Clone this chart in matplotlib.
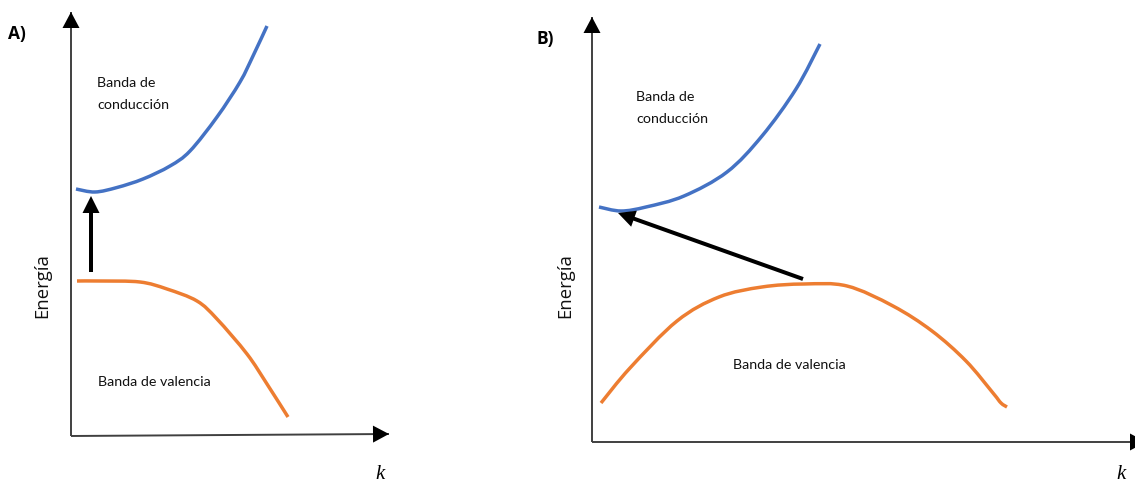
import matplotlib
matplotlib.use("Agg")
import matplotlib.pyplot as plt
from matplotlib.patches import FancyArrow, PathPatch
from matplotlib.path import Path

# Panel A: direct gap (pixel-space coordinates, y grows downward)
a_cond_k = [76, 95, 117, 143, 170, 190, 217, 240, 253, 267]
a_cond_e = [190, 193, 188.5, 180, 167, 152, 118, 83, 57, 27]
a_val_k = [77, 100, 140, 167, 197, 217, 247, 267, 288]
a_val_e = [282, 282, 283, 290, 302, 320, 355, 385, 418]

# Panel B: indirect gap
b_cond_k = [599, 621, 646, 684, 727, 762, 796, 820]
b_cond_e = [208, 212, 208, 197, 173, 137, 90, 45]
b_val_k = [601, 630, 677, 719, 762, 804, 847, 893, 932, 966, 993, 1001, 1007]
b_val_e = [404, 369, 322, 298, 288, 285, 287, 307, 332, 362, 394, 404, 408]

# Electron transitions: (tail k, tail E, tip k, tip E)
a_jump = (91, 273, 91, 197)
b_jump = (803, 280, 618, 214)

BLUE = "#4472C4"
ORANGE = "#ED7D31"
AXIS = "#404040"

fig = plt.figure(figsize=(11.35, 4.85), dpi=100)
ax = fig.add_axes([0, 0, 1, 1])
ax.set_xlim(0, 1135)
ax.set_ylim(485, 0)
ax.axis("off")

TXT = dict(family=["Lato", "DejaVu Sans"], fontsize=10.3, color="#111111")
BIG = dict(family=["Open Sans", "DejaVu Sans"], fontsize=13.3, color="#111111")
TAG = dict(family=["Open Sans", "DejaVu Sans"], fontsize=12.5, fontweight="bold", color="black")
KLAB = dict(family=["Liberation Serif", "DejaVu Serif"], fontsize=15, style="italic", color="black")


def smooth_band(xs, ys, color):
    # Catmull-Rom segments expressed as cubic Bezier path pieces
    pts = list(zip(xs, ys))
    verts = [pts[0]]
    codes = [Path.MOVETO]
    n = len(pts)
    for i in range(n - 1):
        p0 = pts[i - 1] if i > 0 else pts[i]
        p1 = pts[i]
        p2 = pts[i + 1]
        p3 = pts[i + 2] if i + 2 < n else pts[i + 1]
        c1 = (p1[0] + (p2[0] - p0[0]) / 6, p1[1] + (p2[1] - p0[1]) / 6)
        c2 = (p2[0] - (p3[0] - p1[0]) / 6, p2[1] - (p3[1] - p1[1]) / 6)
        verts += [c1, c2, p2]
        codes += [Path.CURVE4] * 3
    ax.add_patch(PathPatch(Path(verts, codes), fill=False, edgecolor=color,
                           lw=2.5, capstyle="butt", joinstyle="round", zorder=3))


def axis_arrow(x0, y0, x1, y1):
    ax.plot([x0, x1], [y0, y1], color=AXIS, lw=1.4, solid_capstyle="butt", zorder=2)
    dx, dy = x1 - x0, y1 - y0
    L = (dx ** 2 + dy ** 2) ** 0.5
    hl = 16
    ux, uy = dx / L, dy / L
    bx, by = x1 - ux * hl, y1 - uy * hl
    ax.add_patch(FancyArrow(bx, by, ux * hl, uy * hl, width=0.1, head_width=17,
                            head_length=hl, length_includes_head=True,
                            color="black", lw=0, zorder=3))


def jump_arrow(t):
    x0, y0, x1, y1 = t
    ax.add_patch(FancyArrow(x0, y0, x1 - x0, y1 - y0, width=4, head_width=17,
                            head_length=17, length_includes_head=True,
                            color="black", lw=0, zorder=4))


# Panel A
axis_arrow(71, 437, 71, 13)
axis_arrow(71, 437, 389, 435)
smooth_band(a_cond_k, a_cond_e, BLUE)
smooth_band(a_val_k, a_val_e, ORANGE)
jump_arrow(a_jump)
ax.text(97, 83, "Banda de", va="center", ha="left", **TXT)
ax.text(97, 105, "conducción", va="center", ha="left", **TXT)
ax.text(98, 382, "Banda de valencia", va="center", ha="left", **TXT)
ax.text(42, 286, "Energía", rotation=90, va="center", ha="center", **BIG)
ax.text(8, 34, "A)", va="center", ha="left", **TAG)
ax.text(380, 475, "k", va="center", ha="center", **KLAB)

# Panel B
axis_arrow(592, 443, 592, 18)
axis_arrow(592, 443, 1146, 443)
smooth_band(b_cond_k, b_cond_e, BLUE)
smooth_band(b_val_k, b_val_e, ORANGE)
jump_arrow(b_jump)
ax.text(636, 97, "Banda de", va="center", ha="left", **TXT)
ax.text(636, 119, "conducción", va="center", ha="left", **TXT)
ax.text(733, 365, "Banda de valencia", va="center", ha="left", **TXT)
ax.text(565, 286, "Energía", rotation=90, va="center", ha="center", **BIG)
ax.text(536, 39, "B)", va="center", ha="left", **TAG)
ax.text(1121, 475, "k", va="center", ha="center", **KLAB)

fig.savefig("out.png", dpi=100, facecolor="white")
